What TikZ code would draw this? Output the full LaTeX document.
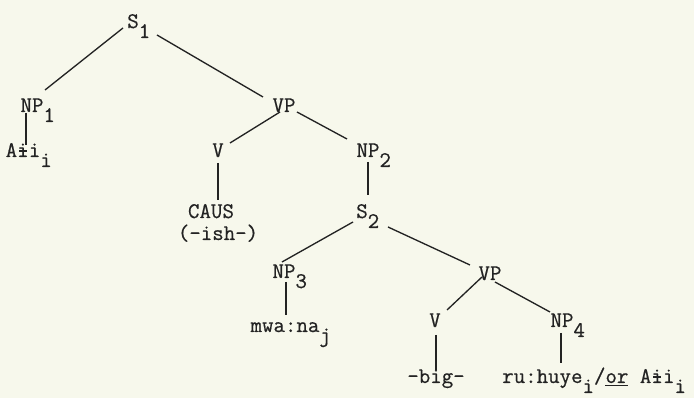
\documentclass[tikz,border=0pt]{standalone}
\usepackage{fontspec}
\setmonofont[FakeBold=0.6]{Latin Modern Mono}
\definecolor{bg}{RGB}{247,248,236}
\definecolor{ink}{RGB}{35,35,35}
\newcommand\lowsub[1]{\rlap{\smash{\raisebox{-7.5pt}{#1}}}}
\newcommand\inlsub[1]{\smash{\raisebox{-7.5pt}{#1}}}
\newcommand\bari{\rlap{i}\makebox[0.525em]{\rule[0.23em]{0.34em}{0.065em}}}
\begin{document}
\begin{tikzpicture}[x=0.75pt,y=-0.75pt,
  lab/.style={inner sep=0pt, anchor=base, text=ink, font=\ttfamily\fontsize{16.7}{19}\selectfont},
  edge/.style={draw=ink, line width=1pt}]
\fill[bg] (0,0) rectangle (694,398);
\useasboundingbox (0,0) rectangle (694,398);
% nodes
\node[lab] (S1)   at (133,28)  {S\lowsub{1}};
\node[lab] (NP1)  at (32,112)  {NP\lowsub{1}};
\node[lab] (ali)  at (23,157)  {A\bari i\lowsub{i}};
\node[lab] (VP1)  at (284,112) {VP};
\node[lab] (V1)   at (218,157) {V};
\node[lab] (caus) at (211,218) {CAUS};
\node[lab] (ish)  at (218,240) {(-ish-)};
\node[lab] (NP2)  at (368,157) {NP\lowsub{2}};
\node[lab] (S2)   at (362,218) {S\lowsub{2}};
\node[lab] (NP3)  at (284,278) {NP\lowsub{3}};
\node[lab] (mwa)  at (285,332) {mwa:na\lowsub{j}};
\node[lab] (VP2)  at (490,280) {VP};
\node[lab] (V2)   at (435,327) {V};
\node[lab] (NP4)  at (562,327) {NP\lowsub{4}};
\node[lab] (big)  at (436,383) {-big-};
\node[lab, anchor=base west] (ru) at (502,383) {ru:huye\inlsub{i}/\underline{or} A\bari i\inlsub{i}};
% edges
\draw[edge] ([shift={(-10,0)}]S1.base) -- ([shift={(13,-22)}]NP1.base);
\draw[edge] ([shift={(24,7)}]S1.base) -- ([shift={(-21,-15)}]VP1.base);
\draw[edge] ([shift={(-6,1)}]NP1.base) -- ([shift={(3,-12)}]ali.base);
\draw[edge] ([shift={(-4,0)}]VP1.base) -- ([shift={(12,-14)}]V1.base);
\draw[edge] ([shift={(13,0)}]VP1.base) -- ([shift={(-21,-18)}]NP2.base);
\draw[edge] ([shift={(0,6)}]V1.base) -- ([shift={(7,-18)}]caus.base);
\draw[edge] ([shift={(0,5)}]NP2.base) -- ([shift={(6,-23)}]S2.base);
\draw[edge] ([shift={(-9,4)}]S2.base) -- ([shift={(-2,-16)}]NP3.base);
\draw[edge] ([shift={(26,9)}]S2.base) -- ([shift={(-20,-15)}]VP2.base);
\draw[edge] ([shift={(2,4)}]NP3.base) -- ([shift={(1,-17)}]mwa.base);
\draw[edge] ([shift={(-8,-3)}]VP2.base) -- ([shift={(12,-17)}]V2.base);
\draw[edge] ([shift={(5,2)}]VP2.base) -- ([shift={(-12,-15)}]NP4.base);
\draw[edge] ([shift={(1,8)}]V2.base) -- ([shift={(0,-13)}]big.base);
\draw[edge] ([shift={(-1,6)}]NP4.base) -- ([shift={(59,-20)}]ru.base west);
\end{tikzpicture}
\end{document}
